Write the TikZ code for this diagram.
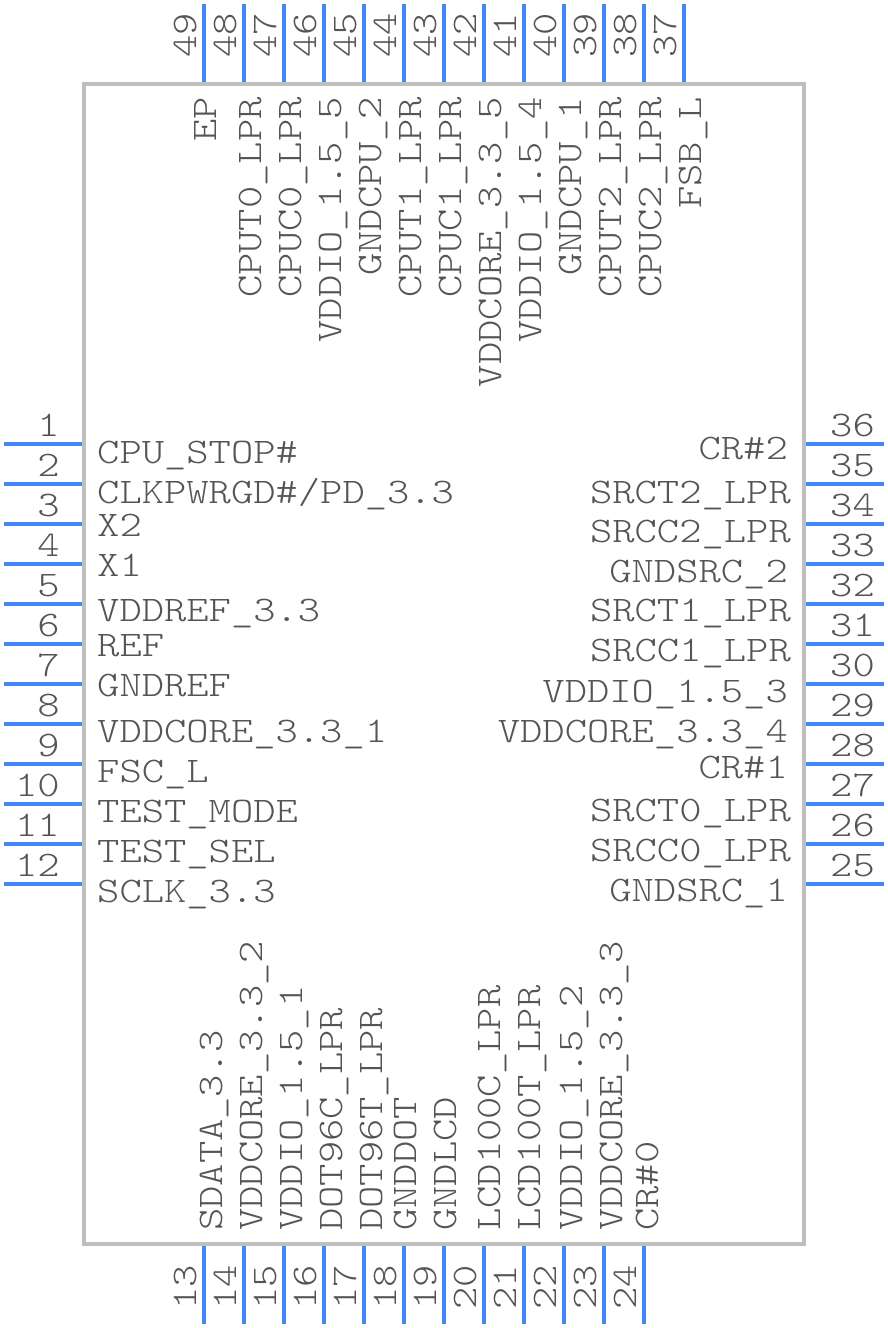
\documentclass[tikz,border=0pt]{standalone}
\usepackage{fontspec}
\setmainfont[FakeStretch=1.18]{Latin Modern Mono Light}
\definecolor{pincol}{HTML}{4088F8}
\definecolor{bodycol}{HTML}{BFBFBF}
\definecolor{txtcol}{HTML}{555555}
\tikzset{
  pinline/.style={draw=pincol,line width=4pt},
  bodybox/.style={draw=bodycol,line width=4pt,inner sep=0pt,outer sep=0pt,minimum width=720pt,minimum height=1160pt},
  lbl/.style={inner sep=0pt,text=txtcol,font=\fontsize{36pt}{36pt}\selectfont},
}
\begin{document}
\begin{tikzpicture}[x=1pt,y=-1pt]
\useasboundingbox (0,0) rectangle (888,1328);
% left pins
\foreach \n/\y/\t/\ty/\tx in {
 1/444/{CPU\_STOP\#}/463/97, 2/484/{CLKPWRGD\#/PD\_3.3}/503/97, 3/524/{X2}/536/97, 4/564/{X1}/576/97,
 5/604/{VDDREF\_3.3}/621/97, 6/644/{REF}/656/97, 7/684/{GNDREF}/696/97, 8/724/{VDDCORE\_3.3\_1}/742/97,
 9/764/{FSC\_L}/782/97, 10/804/{TEST\_MODE}/822/97, 11/844/{TEST\_SEL}/862/97, 12/884/{SCLK\_3.3}/902/97}{
  \coordinate (a\n) at (4,\y); \coordinate (b\n) at (84,\y);
  \draw[pinline] (a\n) -- (b\n);
  \node[lbl,anchor=base east] (num\n) at (60,\y-8) {\n};
  \node[lbl,anchor=base west] (name\n) at (\tx,\ty) {\t};
}
% right pins
\foreach \n/\y/\t/\ty/\tx in {
 36/444/{CR\#2}/459/788, 35/484/{SRCT2\_LPR}/503/791, 34/524/{SRCC2\_LPR}/542/791, 33/564/{GNDSRC\_2}/582/788,
 32/604/{SRCT1\_LPR}/621/791, 31/644/{SRCC1\_LPR}/661/791, 30/684/{VDDIO\_1.5\_3}/702/788, 29/724/{VDDCORE\_3.3\_4}/742/788,
 28/764/{CR\#1}/778/788, 27/804/{SRCT0\_LPR}/821/791, 26/844/{SRCC0\_LPR}/861/791, 25/884/{GNDSRC\_1}/901/788}{
  \coordinate (a\n) at (884,\y); \coordinate (b\n) at (804,\y);
  \draw[pinline] (a\n) -- (b\n);
  \node[lbl,anchor=base west] (num\n) at (830,\y-8) {\n};
  \node[lbl,anchor=base east] (name\n) at (\tx,\ty) {\t};
}
% top pins
\foreach \n/\x/\t/\tx in {
 49/204/{EP}/216, 48/244/{CPUT0\_LPR}/261, 47/284/{CPUC0\_LPR}/301, 46/324/{VDDIO\_1.5\_5}/341,
 45/364/{GNDCPU\_2}/381, 44/404/{CPUT1\_LPR}/421, 43/444/{CPUC1\_LPR}/461, 42/484/{VDDCORE\_3.3\_5}/501,
 41/524/{VDDIO\_1.5\_4}/541, 40/564/{GNDCPU\_1}/581, 39/604/{CPUT2\_LPR}/621, 38/644/{CPUC2\_LPR}/661, 37/684/{FSB\_L}/701}{
  \coordinate (a\n) at (\x,4); \coordinate (b\n) at (\x,84);
  \draw[pinline] (a\n) -- (b\n);
  \node[lbl,rotate=90,anchor=base west] (num\n) at (\x-8,58) {\n};
  \node[lbl,rotate=90,anchor=base east] (name\n) at (\tx,97) {\t};
}
% bottom pins
\foreach \n/\x/\t/\tx in {
 13/204/{SDATA\_3.3}/222, 14/244/{VDDCORE\_3.3\_2}/262, 15/284/{VDDIO\_1.5\_1}/302, 16/324/{DOT96C\_LPR}/342,
 17/364/{DOT96T\_LPR}/382, 18/404/{GNDDOT}/416, 19/444/{GNDLCD}/456, 20/484/{LCD100C\_LPR}/500,
 21/524/{LCD100T\_LPR}/540, 22/564/{VDDIO\_1.5\_2}/582, 23/604/{VDDCORE\_3.3\_3}/622, 24/644/{CR\#0}/658}{
  \coordinate (a\n) at (\x,1324); \coordinate (b\n) at (\x,1244);
  \draw[pinline] (a\n) -- (b\n);
  \node[lbl,rotate=90,anchor=base west] (num\n) at (\x-8,1310) {\n};
  \node[lbl,rotate=90,anchor=base west] (name\n) at (\tx,1231) {\t};
}
\node[bodybox] (body) at (444,664) {};
\end{tikzpicture}
\end{document}
